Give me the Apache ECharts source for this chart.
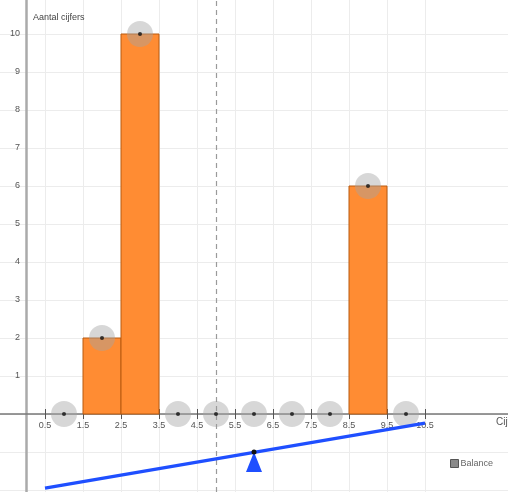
<!DOCTYPE html>
<html><head><meta charset="utf-8">
<script src="https://cdn.jsdelivr.net/npm/echarts@6/dist/echarts.min.js"></script>
<style>html,body{margin:0;padding:0;background:#fff}#c{width:508px;height:492px}</style>
</head><body><div id="c"></div>
<script>
const scoreValues = [1, 2, 3, 4, 5, 6, 7, 8, 9, 10];
const counts = [0, 2, 10, 0, 0, 0, 0, 0, 6, 0];
const xTickLabels = [0.5, 1.5, 2.5, 3.5, 4.5, 5.5, 6.5, 7.5, 8.5, 9.5, 10.5];
const yTickLabels = [1, 2, 3, 4, 5, 6, 7, 8, 9, 10];
const dashedLineX = 5;
const beamX = [0.5, 10.5];
const beamY = [-1.95, -0.24];
const pivotX = 6;
const pivotY = -1;

const pointData = scoreValues.map((v, i) => [v, counts[i]]);
const barData = pointData.filter(d => d[1] > 0);
const FONT = 'Liberation Sans';

// grid geometry: 38 px per unit on both axes, origin at (26, 414)
const G = { left: -12, top: -4, width: 532, height: 532 };

const baseX = {
  type: 'value', min: -1, max: 13, interval: 1, position: 'bottom', offset: -114
};

const chart = echarts.init(document.getElementById('c'));
chart.setOption({
  animation: false,
  backgroundColor: '#fff',
  title: [
    { text: 'Aantal cijfers', left: 28, top: 8, textStyle: { fontSize: 9, fontWeight: 'normal', color: '#444', fontFamily: FONT } },
    { text: 'Cijfer', left: 491, top: 412, textStyle: { fontSize: 10, fontWeight: 'normal', color: '#555', fontFamily: FONT } }
  ],
  legend: {
    left: 450, top: 459, itemWidth: 8, itemHeight: 8, itemGap: 2, padding: 0,
    icon: 'rect',
    textStyle: { fontSize: 9, color: '#666', fontFamily: FONT, padding: [0, 0, 0, -3] },
    data: [{ name: 'Balance', itemStyle: { color: '#8a8a8a', borderColor: '#555', borderWidth: 1 } }]
  },
  grid: { left: G.left, top: G.top, width: G.width, height: G.height, outerBoundsMode: 'none', containLabel: false },
  xAxis: [
    Object.assign({}, baseX, {
      axisLine: { onZero: false, lineStyle: { color: '#777', width: 1.5 } },
      axisTick: { show: true, customValues: xTickLabels, length: 5, lineStyle: { color: '#555' } },
      axisLabel: { customValues: xTickLabels, fontSize: 9, color: '#555', margin: 7, fontFamily: FONT },
      splitLine: { show: true, lineStyle: { color: '#ececec', width: 1 } }
    }),
    Object.assign({}, baseX, {
      axisLine: { show: false, onZero: false },
      axisTick: { show: true, inside: true, customValues: xTickLabels, length: 5, lineStyle: { color: '#555' } },
      axisLabel: { show: false },
      splitLine: { show: false }
    })
  ],
  yAxis: {
    type: 'value', min: -3, max: 11, interval: 1, position: 'left',
    offset: -38,
    axisLine: { onZero: false, lineStyle: { color: '#aaa', width: 2.5 } },
    axisTick: { show: false },
    axisLabel: { customValues: yTickLabels, fontSize: 9, color: '#555', margin: 6, fontFamily: FONT },
    splitLine: { show: true, lineStyle: { color: '#ececec', width: 1 } }
  },
  series: [
    {
      type: 'custom', name: 'bars', z: 2,
      data: barData,
      renderItem: (params, api) => {
        const x = api.value(0), y = api.value(1);
        const p0 = api.coord([x - 0.5, y]);
        const p1 = api.coord([x + 0.5, 0]);
        return { type: 'rect', shape: { x: p0[0], y: p0[1], width: p1[0] - p0[0], height: p1[1] - p0[1] },
          style: { fill: '#ff8c33', stroke: '#b85a10', lineWidth: 1 } };
      },
      markLine: {
        silent: true, symbol: 'none', label: { show: false },
        lineStyle: { type: [5, 4], color: '#9a9a9a', width: 1.2 },
        data: [{ xAxis: dashedLineX }]
      }
    },
    {
      type: 'scatter', name: 'points', z: 4,
      data: pointData, symbolSize: 26,
      itemStyle: { color: 'rgba(165,165,165,0.55)' }
    },
    {
      type: 'scatter', name: 'dots', z: 5,
      data: pointData, symbolSize: 4,
      itemStyle: { color: '#111' }
    },
    {
      type: 'line', name: 'beam', z: 6,
      data: beamX.map((x, i) => [x, beamY[i]]),
      symbol: 'none',
      lineStyle: { color: '#1f4fff', width: 3.5 }
    },
    {
      type: 'custom', name: 'Balance', z: 7,
      data: [[pivotX, pivotY]],
      renderItem: (params, api) => {
        const p = api.coord([api.value(0), api.value(1)]);
        return { type: 'group', children: [
          { type: 'polygon', shape: { points: [[p[0], p[1]], [p[0] - 8, p[1] + 20], [p[0] + 8, p[1] + 20]] },
            style: { fill: '#1f4fff' } },
          { type: 'circle', shape: { cx: p[0], cy: p[1], r: 2.5 }, style: { fill: '#111' } }
        ] };
      }
    }
  ]
});
</script>
</body></html>
